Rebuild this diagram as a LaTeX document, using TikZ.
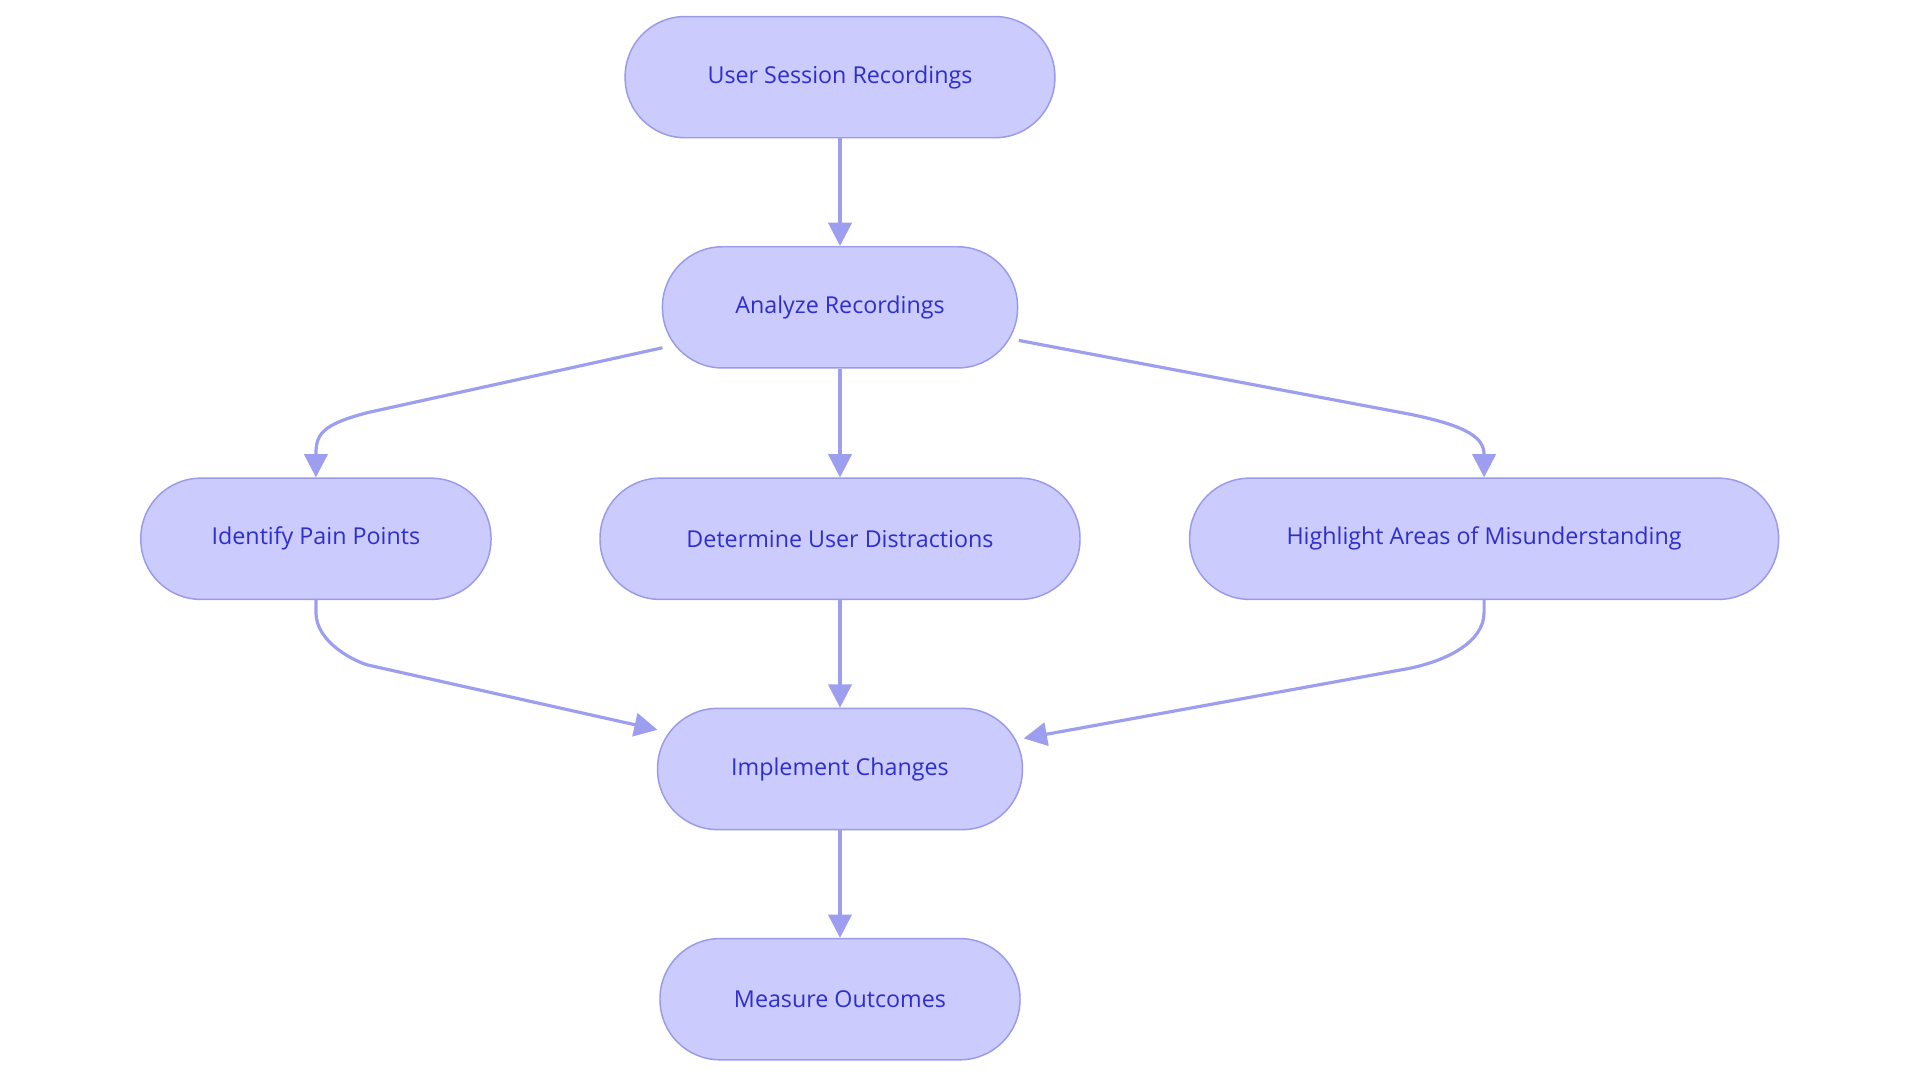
\documentclass[tikz,border=0pt]{standalone}
\usepackage{fontspec}
\setmainfont{Open Sans}
\usetikzlibrary{arrows.meta}
\definecolor{nfill}{HTML}{CBCBFD}
\definecolor{nline}{HTML}{9A9AEB}
\definecolor{ntext}{HTML}{2E2ECF}
\definecolor{aline}{HTML}{9E9EF0}
\begin{document}
\begin{tikzpicture}[x=1pt,y=-1pt,
  box/.style={draw=nline,fill=nfill,line width=1.2pt,rounded corners=49pt,minimum height=99pt,text=ntext,font=\fontsize{19}{22}\selectfont,inner sep=0pt},
  arr/.style={draw=aline,line width=2.6pt,-{Triangle[length=19pt,width=19pt]}}]
\useasboundingbox (0,0) rectangle (1568,884);
\node[box,minimum width=351pt] (usr) at (686,63) {User Session Recordings};
\node[box,minimum width=290pt] (ar) at (686,251) {Analyze Recordings};
\node[box,minimum width=286pt] (ipp) at (258,440) {Identify Pain Points};
\node[box,minimum width=392pt] (dud) at (686,440) {Determine User Distractions};
\node[box,minimum width=481pt] (ham) at (1212,440) {Highlight Areas of Misunderstanding};
\node[box,minimum width=298pt] (ic) at (686,628) {Implement Changes};
\node[box,minimum width=294pt] (mo) at (686,816) {Measure Outcomes};
\draw[arr] (usr) -- (ar);
\draw[arr] (ar) -- (dud);
\draw[arr] (dud) -- (ic);
\draw[arr] (ic) -- (mo);
\coordinate (a1) at (541,284);
\coordinate (a2) at (832,278);
\coordinate (b1) at (258,490);
\coordinate (b2) at (1212,490);
\draw[arr] (a1) -- (300,337) .. controls (262,347) and (258,355) .. (ipp.north);
\draw[arr] (a2) -- (1150,338) .. controls (1200,348) and (1212,358) .. (ham.north);
\draw[arr] (b1) -- (258,500) .. controls (258,525) and (290,540) .. (300,543) -- (537,596);
\draw[arr] (b2) -- (1212,500) .. controls (1212,525) and (1180,540) .. (1150,546) -- (836,603);
\end{tikzpicture}
\end{document}
